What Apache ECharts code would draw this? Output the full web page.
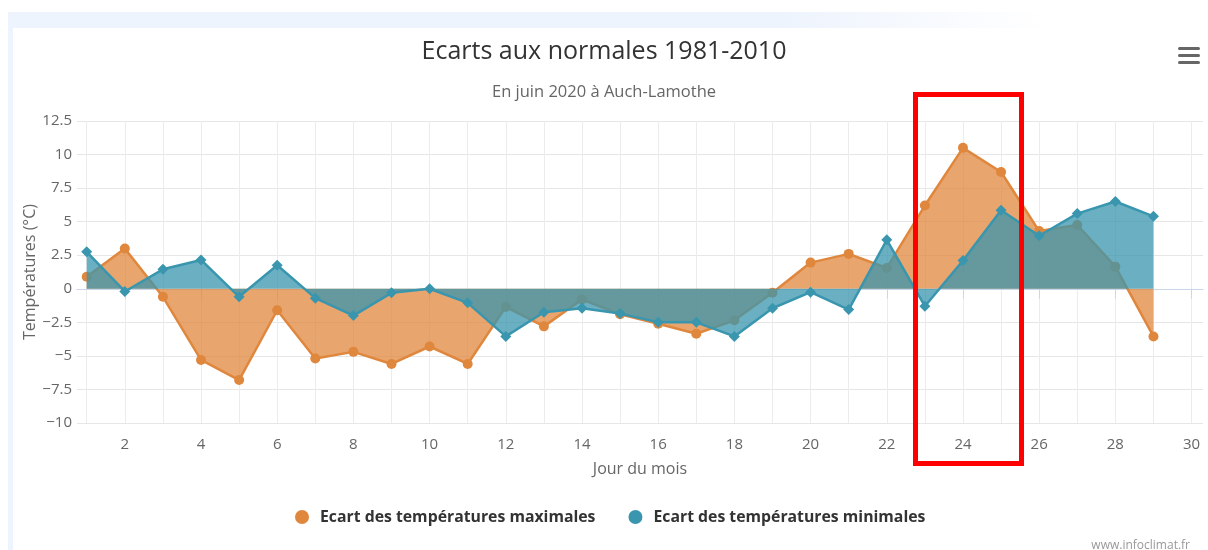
<!DOCTYPE html>
<html>
<head>
<meta charset="utf-8">
<script src="https://cdn.jsdelivr.net/npm/echarts@6/dist/echarts.min.js"></script>
<style>
  html, body { margin: 0; padding: 0; background: #ffffff; width: 1208px; height: 550px; overflow: hidden; }
  #band { position: absolute; left: 8px; top: 12px; width: 1040px; height: 16px;
          background: linear-gradient(to right, #eef4fd 0%, #eef4fd 75%, #ffffff 100%); }
  #strip { position: absolute; left: 8px; top: 12px; width: 5px; height: 538px; background: #eef4fd; }
  #chart { position: absolute; left: 0; top: 0; width: 1208px; height: 550px; }
</style>
</head>
<body>
<div id="band"></div>
<div id="strip"></div>
<div id="chart"></div>
<script>
// ---- data ----
const days = [1,2,3,4,5,6,7,8,9,10,11,12,13,14,15,16,17,18,19,20,21,22,23,24,25,26,27,28,29];
const ecartMax = [0.9, 3.0, -0.6, -5.3, -6.8, -1.6, -5.2, -4.7, -5.6, -4.3,
                  -5.6, -1.35, -2.8, -0.8, -1.9, -2.6, -3.35, -2.35, -0.3, 1.95,
                  2.6, 1.55, 6.2, 10.5, 8.7, 4.3, 4.75, 1.65, -3.55];
const ecartMin = [2.75, -0.2, 1.45, 2.15, -0.6, 1.75, -0.7, -2.0, -0.3, 0.0,
                  -1.05, -3.55, -1.75, -1.45, -1.85, -2.5, -2.5, -3.55, -1.45, -0.25,
                  -1.55, 3.65, -1.3, 2.1, 5.85, 3.95, 5.6, 6.5, 5.4];
const xLabelDays = [2,4,6,8,10,12,14,16,18,20,22,24,26,28,30];
const xGridDays = [1,2,3,4,5,6,7,8,9,10,11,12,13,14,15,16,17,18,19,20,21,22,23,24,25,26,27,28,29,30];
const seriesNames = ['Ecart des températures maximales', 'Ecart des températures minimales'];
const titleText = 'Ecarts aux normales 1981-2010';
const subtitleText = 'En juin 2020 à Auch-Lamothe';
const xName = 'Jour du mois';
const yName = 'Températures (°C)';
const creditText = 'www.infoclimat.fr';

const FONT = '"Open Sans", "DejaVu Sans", sans-serif';
const ORANGE = '#e0873e';
const BLUE = '#3a96ae';
const XMIN = 0.745, XMAX = 30.3;

const chart = echarts.init(document.getElementById('chart'), null, { renderer: 'canvas' });
const pair = (arr) => days.map((d, i) => [d, arr[i]]);

chart.setOption({
  animation: false,
  backgroundColor: 'transparent',
  textStyle: { fontFamily: FONT },
  title: [
    { text: titleText, left: 'center', top: 34,
      textStyle: { fontFamily: FONT, fontSize: 25, fontWeight: 'normal', color: '#333333' } },
    { text: subtitleText, left: 'center', top: 79,
      textStyle: { fontFamily: FONT, fontSize: 16.5, fontWeight: 'normal', color: '#666666' } }
  ],
  legend: {
    left: 290, top: 504,
    itemWidth: 14, itemHeight: 14, itemGap: 33,
    icon: 'circle',
    textStyle: { fontFamily: FONT, fontSize: 15.8, fontWeight: 'bold', color: '#333333', padding: [0, 0, 0, 6] },
    data: seriesNames
  },
  grid: { left: 77, right: 5, top: 121, bottom: 127, containLabel: false, outerBoundsMode: 'none' },
  xAxis: [
    {
      type: 'value', min: XMIN, max: XMAX, position: 'bottom',
      name: xName, nameLocation: 'middle', nameGap: 38, nameMoveOverlap: false,
      nameTextStyle: { fontFamily: FONT, fontSize: 16, color: '#666666' },
      axisLine: { show: true, lineStyle: { color: '#ccd6eb', width: 1 } },
      axisTick: { show: true, length: 10, customValues: xLabelDays, lineStyle: { color: '#ccd6eb' } },
      axisLabel: { show: true, customValues: xLabelDays, margin: 14,
                   fontFamily: FONT, fontSize: 15, color: '#666666' },
      splitLine: { show: false }
    },
    {
      type: 'value', min: XMIN, max: XMAX, position: 'bottom',
      axisLine: { show: false },
      axisTick: { show: false, customValues: xGridDays },
      axisLabel: { show: false },
      splitLine: { show: true, lineStyle: { color: '#ececec', width: 1 } }
    }
  ],
  yAxis: {
    type: 'value', min: -10, max: 12.5, interval: 2.5,
    name: yName, nameLocation: 'middle', nameGap: 39, nameRotate: 90, nameMoveOverlap: false,
    nameTextStyle: { fontFamily: FONT, fontSize: 16, color: '#666666' },
    axisLine: { show: false }, axisTick: { show: false },
    axisLabel: { margin: 5, fontFamily: FONT, fontSize: 15, color: '#666666',
                 formatter: (v) => String(v).replace('-', '\u2212') },
    splitLine: { show: true, lineStyle: { color: '#e6e6e6', width: 1 } }
  },
  series: [
    {
      name: seriesNames[0], type: 'line', xAxisIndex: 0, z: 2,
      data: pair(ecartMax),
      symbol: 'circle', symbolSize: 10,
      itemStyle: { color: ORANGE },
      lineStyle: { color: ORANGE, width: 2.5 },
      areaStyle: { color: ORANGE, opacity: 0.75, origin: 0 }
    },
    {
      name: seriesNames[1], type: 'line', xAxisIndex: 0, z: 3,
      data: pair(ecartMin),
      symbol: 'diamond', symbolSize: 11,
      itemStyle: { color: BLUE },
      lineStyle: { color: BLUE, width: 2.5 },
      areaStyle: { color: BLUE, opacity: 0.75, origin: 0 }
    }
  ],
  graphic: [
    { type: 'rect', shape: { x: 1178, y: 47, width: 22, height: 3, r: 1.5 }, style: { fill: '#666666' } },
    { type: 'rect', shape: { x: 1178, y: 54, width: 22, height: 3, r: 1.5 }, style: { fill: '#666666' } },
    { type: 'rect', shape: { x: 1178, y: 61, width: 22, height: 3, r: 1.5 }, style: { fill: '#666666' } },
    { type: 'text', x: 1190, y: 546,
      style: { text: creditText, fill: '#999999', font: '12px ' + FONT, textAlign: 'right', textVerticalAlign: 'middle' } },
    { type: 'rect', z: 100, shape: { x: 915.5, y: 94.5, width: 106, height: 369 },
      style: { fill: 'none', stroke: '#ff0000', lineWidth: 5 } }
  ]
});
</script>
</body>
</html>
